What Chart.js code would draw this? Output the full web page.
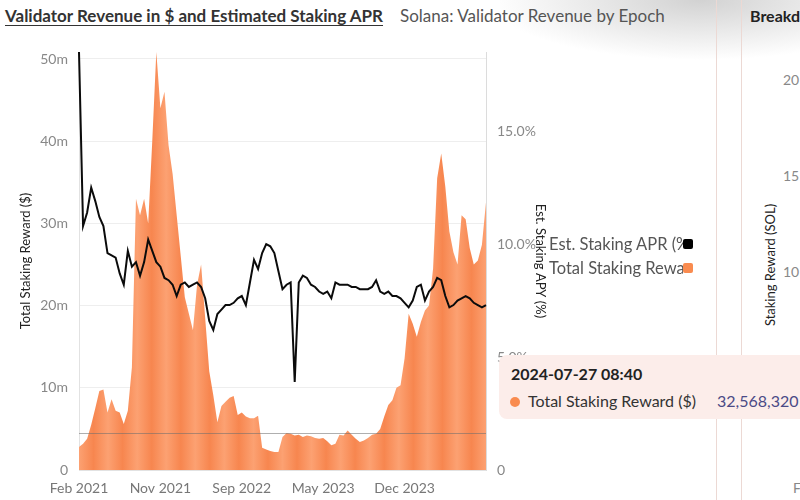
<!DOCTYPE html>
<html>
<head>
<meta charset="utf-8">
<script src="https://cdn.jsdelivr.net/npm/chart.js@4.4.1/dist/chart.umd.min.js"></script>
<style>
  html, body { margin: 0; padding: 0; background: #fff; }
  #page { position: relative; width: 800px; height: 500px; overflow: hidden; background: #fff; font-family: 'Lato', 'Open Sans', sans-serif; }
  #shade { position: absolute; left: 500px; top: 0; width: 300px; height: 90px;
    background: radial-gradient(ellipse 210px 60px at 200px 0px, rgba(205,205,205,0.9), rgba(255,255,255,0)); }
  #title { position: absolute; left: 5px; top: 5px; font-size: 17px; font-weight: 700; color: #333; text-decoration: underline; text-underline-offset: 3px; white-space: nowrap; }
  #subtitle { position: absolute; left: 400px; top: 5px; font-size: 17px; color: #555; white-space: nowrap; }
  #chartBox { position: absolute; left: 0; top: 0; width: 552px; height: 500px; }
  #legend { position: absolute; left: 549px; top: 232px; font-size: 16.5px; color: #555; }
  .li { height: 24px; display: flex; align-items: center; }
  .lt { display: inline-block; width: 134px; overflow: hidden; white-space: nowrap; }
  .sw { display: inline-block; width: 10px; height: 10px; border-radius: 2px; margin-left: 0px; }
  .sep { position: absolute; top: 0; width: 1px; height: 500px; background: #ecd9d4; }
  #tip { position: absolute; left: 499px; top: 355px; width: 330px; height: 64px; background: #fcedea; border-radius: 8px; }
  #tipTime { position: absolute; left: 12px; top: 9px; font-size: 16px; font-weight: 700; color: #222; white-space: nowrap; }
  #tipDot { position: absolute; left: 11px; top: 42px; width: 10px; height: 10px; border-radius: 50%; background: #f98b4f; }
  #tipName { position: absolute; left: 29px; top: 36px; font-size: 16px; color: #333; white-space: nowrap; }
  #tipVal { position: absolute; left: 218px; top: 36px; font-size: 16px; color: #4b4a86; white-space: nowrap; }
  #rTitle { position: absolute; left: 750px; top: 6px; font-size: 16px; font-weight: 700; color: #222; white-space: nowrap; }
  .rTick { position: absolute; left: 783px; font-size: 14px; color: #888; white-space: nowrap; }
  #rAxis { position: absolute; left: 770px; top: 265px; transform: translate(-50%, -50%) rotate(-90deg); font-size: 13px; color: #222; white-space: nowrap; }
</style>
</head>
<body>
<div id="page">
  <div id="shade"></div>
  <div id="title">Validator Revenue in $ and Estimated Staking APR</div>
  <div id="subtitle">Solana: Validator Revenue by Epoch</div>
  <div id="chartBox"><canvas id="c" width="552" height="500"></canvas></div>
  <div id="legend">
    <div class="li"><span class="lt">Est. Staking APR (%)</span><span class="sw" style="background:#000"></span></div>
    <div class="li"><span class="lt">Total Staking Reward ($)</span><span class="sw" style="background:#f98b4f"></span></div>
  </div>
  <div class="sep" style="left:716px"></div>
  <div class="sep" style="left:741px"></div>
  <div id="rTitle">Breakdown</div>
  <div class="rTick" style="top:71px">20</div>
  <div class="rTick" style="top:167px">15</div>
  <div class="rTick" style="top:263px">10</div>
  <div id="rAxis">Staking Reward (SOL)</div>
  <div class="rTick" style="top:479px;left:793px">F</div>
  <div id="tip">
    <div id="tipTime">2024-07-27 08:40</div>
    <div id="tipDot"></div>
    <div id="tipName">Total Staking Reward ($)</div>
    <div id="tipVal">32,568,320</div>
  </div>
</div>
<script>
// ---- Data (one point per sampled epoch, Feb 2021 -> 2024-07-27) ----
const tickLabels = ['Feb 2021', 'Nov 2021', 'Sep 2022', 'May 2023', 'Dec 2023'];
const tickEvery = 20;

// Total staking reward, millions of USD
const rewardM = [
  2.8, 3.2, 3.8, 5.5, 7.5, 9.6, 9.8, 7.0, 8.6, 7.2,
  7.0, 5.6, 7.2, 12.5, 33.0, 31.0, 33.0, 30.0, 40.0, 50.85,
  44.0, 46.0, 39.5, 36.0, 31.0, 26.0, 21.0, 19.0, 17.0, 22.5,
  25.0, 18.5, 12.0, 9.1, 5.8, 7.8, 8.3, 8.8, 9.0, 6.7,
  7.0, 6.5, 6.3, 6.3, 6.6, 2.7, 2.5, 2.3, 2.2, 2.2,
  4.0, 4.5, 4.4, 4.2, 4.3, 4.0, 4.2, 4.1, 3.9, 3.8,
  3.9, 3.5, 3.0, 3.2, 4.3, 4.2, 4.8, 4.3, 3.8, 3.4,
  3.6, 3.9, 4.3, 4.4, 5.0, 6.5, 7.9, 8.5, 10.0, 10.3,
  13.6, 19.0, 17.8, 16.2, 18.0, 19.4, 20.0, 24.5, 35.5, 38.5,
  34.5, 29.0, 26.5, 25.0, 31.0, 30.5, 27.0, 25.0, 25.5, 27.4,
  32.568320
];

// Estimated staking APR, percent
const aprPct = [
  18.5, 10.8, 11.4, 12.5, 11.9, 11.2, 10.8, 9.6, 9.5, 9.4,
  8.7, 8.2, 9.7, 9.0, 9.2, 8.6, 9.2, 10.2, 9.7, 9.2,
  9.0, 8.5, 8.4, 8.2, 7.7, 8.2, 8.3, 8.1, 8.2, 8.3,
  8.1, 7.6, 6.6, 6.2, 6.9, 7.1, 7.3, 7.3, 7.4, 7.6,
  7.7, 7.3, 8.3, 9.3, 8.9, 9.6, 10.0, 9.9, 9.6, 8.8,
  8.0, 8.2, 8.3, 3.9, 8.3, 8.6, 8.5, 8.2, 8.1, 7.9,
  7.8, 7.9, 7.6, 8.3, 8.2, 8.2, 8.2, 8.1, 8.1, 8.0,
  8.0, 8.0, 8.1, 8.4, 7.9, 7.8, 7.9, 7.7, 7.7, 7.6,
  7.4, 7.2, 7.5, 8.1, 8.2, 7.5, 7.9, 8.1, 8.5, 8.4,
  7.7, 7.2, 7.3, 7.5, 7.6, 7.7, 7.6, 7.4, 7.3, 7.2,
  7.3
];

const refLineM = 4.5; // horizontal reference line (millions)

const ORANGE = '#fa9560';
const ORANGE_DARK = '#f7864f';
const ORANGE_LIGHT = '#fca172';
const STRIPE_PX = 30;

const labels = rewardM.map((_, i) => (i % tickEvery === 0 && tickLabels[i / tickEvery]) ? tickLabels[i / tickEvery] : '');

const refLinePlugin = {
  id: 'refLine',
  afterDatasetsDraw(chart) {
    const { ctx, chartArea: a, scales } = chart;
    const y = Math.round(scales.y.getPixelForValue(refLineM)) + 0.5;
    ctx.save();
    ctx.strokeStyle = 'rgba(110,110,110,0.55)';
    ctx.lineWidth = 1;
    ctx.beginPath();
    ctx.moveTo(a.left, y);
    ctx.lineTo(a.right, y);
    ctx.stroke();
    ctx.restore();
  }
};

function stripeFill(c) {
  const chart = c.chart;
  const a = chart.chartArea;
  if (!a) return ORANGE;
  const g = chart.ctx.createLinearGradient(a.left, 0, a.right, 0);
  const n = Math.max(1, Math.round((a.right - a.left) / STRIPE_PX));
  for (let k = 0; k <= n; k++) {
    g.addColorStop(k / n, ORANGE_LIGHT);
    if (k < n) g.addColorStop((k + 0.5) / n, ORANGE_DARK);
  }
  return g;
}

const FONT = 'Lato, "Open Sans", sans-serif';

new Chart(document.getElementById('c'), {
  data: {
    labels: labels,
    datasets: [
      {
        type: 'line',
        label: 'Est. Staking APR (%)',
        data: aprPct,
        yAxisID: 'y1',
        borderColor: '#0b0b0b',
        borderWidth: 2,
        pointRadius: 0,
        tension: 0,
        order: 0
      },
      {
        type: 'line',
        label: 'Total Staking Reward ($)',
        data: rewardM,
        yAxisID: 'y',
        fill: 'origin',
        backgroundColor: stripeFill,
        borderWidth: 0,
        borderColor: 'rgba(0,0,0,0)',
        pointRadius: 0,
        tension: 0,
        order: 1
      }
    ]
  },
  options: {
    responsive: false,
    animation: false,
    devicePixelRatio: 1,
    layout: { padding: { top: 52, left: 0, right: 0, bottom: 0 } },
    plugins: { legend: { display: false }, tooltip: { enabled: false } },
    scales: {
      x: {
        type: 'category',
        offset: false,
        grid: { drawOnChartArea: false, color: 'rgba(0,0,0,0)', tickLength: 8 },
        border: { display: true, color: '#e2e2e2' },
        ticks: { autoSkip: false, maxRotation: 0, minRotation: 0, color: '#777', padding: 2,
          font: { family: FONT, size: 14 } },
        afterFit: (s) => { s.height = 30; }
      },
      y: {
        position: 'left',
        min: 0,
        max: Math.max(...rewardM),
        ticks: { stepSize: 10, includeBounds: false, color: '#888', padding: 3,
          font: { family: FONT, size: 14 },
          callback: (v) => v === 0 ? '0' : v + 'm' },
        grid: { color: '#eeeeee', tickColor: 'rgba(0,0,0,0)', tickLength: 8 },
        border: { display: true, color: '#e2e2e2' },
        title: { display: true, text: 'Total Staking Reward ($)', color: '#222',
          font: { family: FONT, size: 13 }, padding: { top: 18, bottom: 0 } },
        afterFit: (s) => { s.width = 79; }
      },
      y1: {
        position: 'right',
        min: 0,
        max: Math.max(...aprPct),
        ticks: { stepSize: 5, includeBounds: false, color: '#888', padding: 3,
          font: { family: FONT, size: 14 },
          callback: (v) => v === 0 ? '0' : v.toFixed(1) + '%' },
        grid: { drawOnChartArea: false, tickColor: 'rgba(0,0,0,0)', tickLength: 8 },
        border: { display: true, color: '#dcdcdc' },
        title: { display: true, text: 'Est. Staking APY (%)', color: '#222',
          font: { family: FONT, size: 13 }, padding: { top: 4, bottom: 0 } },
        afterFit: (s) => { s.width = 66; }
      }
    }
  },
  plugins: [refLinePlugin]
});
</script>
</body>
</html>
